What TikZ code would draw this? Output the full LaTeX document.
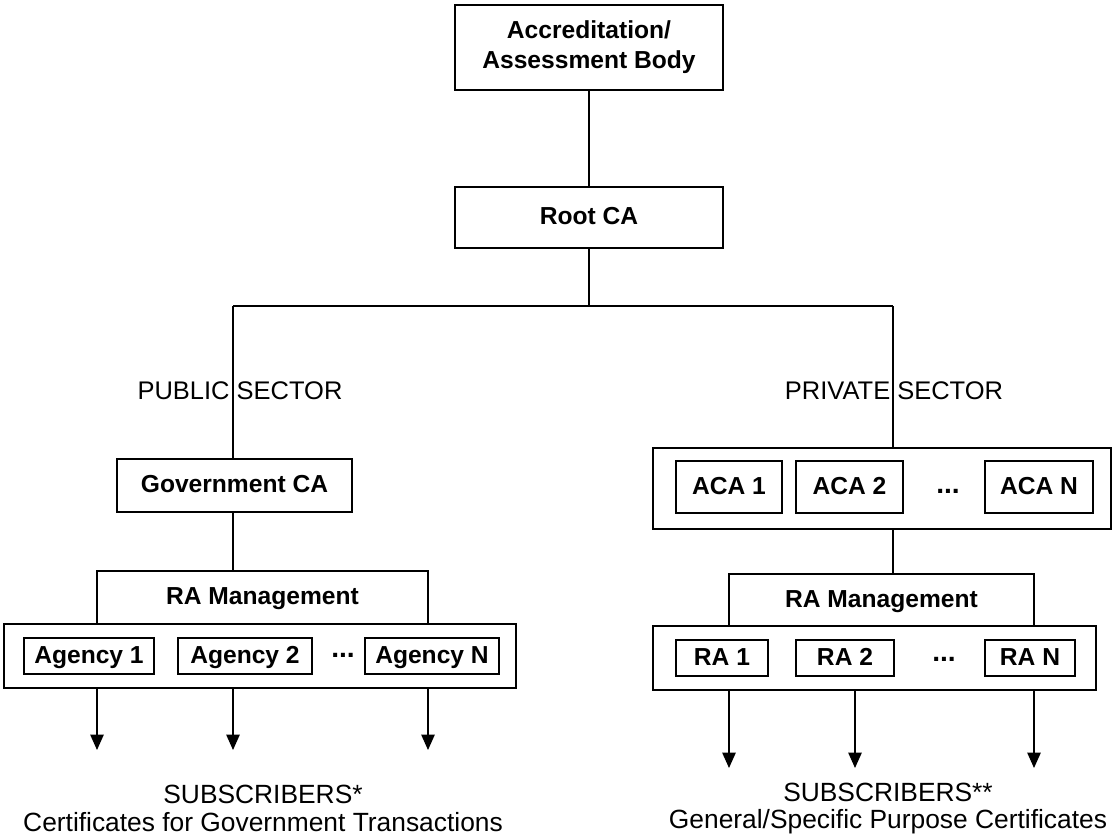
\documentclass[tikz,border=0pt]{standalone}
\usepackage{fontspec}
\setmainfont{Liberation Sans}
\usepackage{tikz}
\usetikzlibrary{arrows.meta,positioning}

\begin{document}
\begin{tikzpicture}[
  box/.style={draw, line width=0.8pt, inner sep=0pt, align=center,
              font=\fontsize{14}{17}\selectfont\bfseries},
  oneline/.style={box, text height=10.5pt, text depth=2.5pt},
  subbox/.style={oneline, minimum height=0.72cm},
  outer/.style={draw, line width=0.8pt, inner sep=0pt},
  lbl/.style={font=\fontsize{14.5}{17}\selectfont, inner sep=1pt},
  sub/.style={font=\fontsize{15}{15.5}\selectfont, align=center},
  dots/.style={font=\fontsize{16}{17}\selectfont\bfseries},
  conn/.style={line width=0.8pt},
  arr/.style={-{Triangle[length=3.1mm,width=2.7mm]}, line width=0.8pt},
]
  \useasboundingbox (0,0) rectangle (22.32,-16.7);

  %% ---- TOP ----
  \node[box, minimum width=5.36cm, minimum height=1.7cm] (acc) at (11.78,-0.95)
    {Accreditation/\\Assessment Body};
  \node[oneline, minimum width=5.36cm, minimum height=1.22cm] (root) at (11.78,-4.35) {Root CA};
  \coordinate (jl) at (4.66,-6.12);
  \coordinate (jr) at (17.86,-6.12);
  \draw[conn] (acc) -- (root);
  \draw[conn] (root.south) -- (root.south |- jl);
  \draw[conn] (jl) -- (jr);

  %% ---- PUBLIC SECTOR ----
  \node[oneline, minimum width=4.7cm, minimum height=1.06cm] (gov) at (4.69,-9.71) {Government CA};
  \draw[conn] (jl) -- (gov.north -| jl);
  \node[lbl] (pub) at (4.8,-7.82) {PUBLIC SECTOR};
  \node[oneline, minimum width=6.62cm, minimum height=1.06cm] (ramL) at (5.25,-11.95) {RA Management};
  \draw[conn] (gov.south -| jl) -- (ramL.north -| jl);
  \node[outer, minimum width=10.24cm, minimum height=1.28cm] (agbox) at (5.2,-13.12) {};
  \node[subbox, minimum width=2.6cm]  (ag1) at (1.78,-13.12) {Agency 1};
  \node[subbox, minimum width=2.68cm] (ag2) at (4.9,-13.12)  {Agency 2};
  \node[dots] (dotsL) at (6.86,-13.1) {...};
  \node[subbox, minimum width=2.68cm] (agN) at (8.64,-13.12) {Agency N};
  \coordinate (sl1) at (1.94,-15.0);
  \coordinate (sl2) at (4.66,-15.0);
  \coordinate (sl3) at (8.56,-15.0);
  \foreach \c in {sl1,sl2,sl3}
    \draw[arr] (agbox.south -| \c) -- (\c);
  \node[sub] (subL) at (5.26,-16.17)
    {SUBSCRIBERS*\\Certificates for Government Transactions};

  %% ---- PRIVATE SECTOR ----
  \node[outer, minimum width=9.16cm, minimum height=1.62cm] (acabox) at (17.64,-9.77) {};
  \draw[conn] (jr) -- (acabox.north -| jr);
  \node[lbl] (priv) at (17.88,-7.82) {PRIVATE SECTOR};
  \node[oneline, minimum width=2.12cm, minimum height=1.04cm] (aca1) at (14.58,-9.74) {ACA 1};
  \node[oneline, minimum width=2.14cm, minimum height=1.04cm] (aca2) at (16.99,-9.74) {ACA 2};
  \node[dots] (dotsA) at (18.96,-9.82) {...};
  \node[oneline, minimum width=2.16cm, minimum height=1.04cm] (acaN) at (20.78,-9.74) {ACA N};
  \node[oneline, minimum width=6.1cm, minimum height=1.04cm] (ramR) at (17.63,-12.0) {RA Management};
  \draw[conn] (acabox.south -| jr) -- (ramR.north -| jr);
  \node[outer, minimum width=8.86cm, minimum height=1.28cm] (rabox) at (17.49,-13.16) {};
  \node[subbox, minimum width=1.84cm] (ra1) at (14.44,-13.16) {RA 1};
  \node[subbox, minimum width=1.96cm] (ra2) at (16.9,-13.16)  {RA 2};
  \node[dots] (dotsR) at (18.88,-13.18) {...};
  \node[subbox, minimum width=1.8cm]  (raN) at (20.6,-13.16)  {RA N};
  \coordinate (sr1) at (14.58,-15.36);
  \coordinate (sr2) at (17.1,-15.36);
  \coordinate (sr3) at (20.68,-15.36);
  \foreach \c in {sr1,sr2,sr3}
    \draw[arr] (rabox.south -| \c) -- (\c);
  \node[sub] (subR) at (17.76,-16.17)
    {SUBSCRIBERS**\\General/Specific Purpose Certificates};
\end{tikzpicture}
\end{document}
